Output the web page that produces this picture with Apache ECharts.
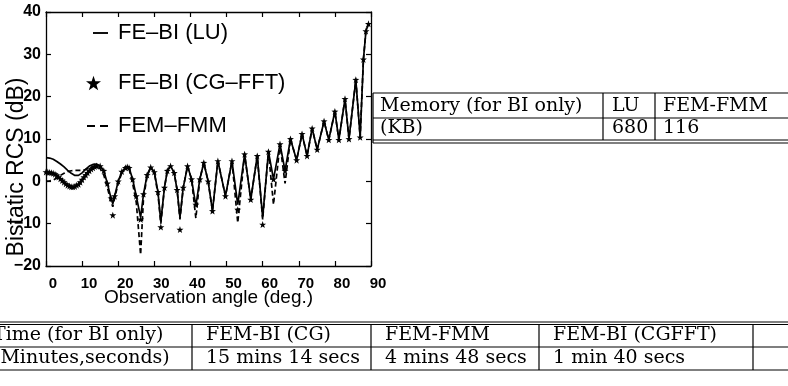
<!DOCTYPE html>
<html>
<head>
<meta charset="utf-8">
<script src="https://cdn.jsdelivr.net/npm/echarts@6/dist/echarts.min.js"></script>
<style>
  html, body { margin: 0; padding: 0; background: #fff; }
  #chart { width: 788px; height: 386px; }
</style>
</head>
<body>
<div id="chart"></div>
<script>
// Observation angles (deg.) at which the bistatic RCS was sampled
const angles = [
  0, 0.5, 1, 1.5, 2, 2.5, 3, 3.5, 4, 4.5, 5, 5.5, 6, 6.5, 7, 7.5, 8, 8.5, 9, 9.5,
  10, 10.5, 11, 11.5, 12, 12.5, 13, 13.5, 14,
  15, 16, 17, 18, 18.5, 19, 20, 21, 22, 22.5, 23, 24, 25, 26.2, 27, 28, 29, 30, 31, 31.8,
  32.8, 33.6, 34.5, 35.5, 36.3, 37.1, 38, 39.2, 40.3, 41.5, 42.6, 43.7, 44.9, 46.1, 47.6,
  49.7, 51.5, 53.1, 55, 56.7, 58.5, 60, 61.6, 63, 64.8, 66.2, 67.7, 69.4, 70.9, 72.3,
  73.7, 75.1, 77, 78.3, 80, 81.1, 82.8, 83.9, 85.8, 87, 87.9, 88.6, 89.3
];

// Bistatic RCS (dB), FE-BI solved with LU
const rcsLU = [
  5.6, 5.6, 5.5, 5.4, 5.2, 5.0, 4.7, 4.4, 4.1, 3.8, 3.4, 3.0, 2.6, 2.2, 1.9, 1.6, 1.4, 1.3, 1.4, 1.6,
  2.0, 2.4, 2.9, 3.3, 3.6, 3.9, 4.0, 4.1, 4.1,
  3.7, 2.5, -0.5, -4.0, -5.3, -3.5, 0, 2.3, 3.2, 3.4, 3.2, 0.5, -3.5, -8.5, -3.0, 1.5, 3.3, 2.2, -2.5, -9.5,
  -1.5, 2.5, 3.6, 2.0, -2.0, -8.5, -1.5, 3.6, 0.5, -5.8, 0.5, 4.4, 0, -7.0, 4.8,
  -3.5, 4.8, -5.5, 6.4, -4.3, 6.0, -8.5, 7.0, 0.5, 8.8, 2.5, 10.0, 5.0, 11.2, 6.0,
  12.5, 7.5, 14.2, 9.8, 16.5, 9.8, 19.5, 10.0, 24.0, 10.4, 28.8, 35.5, 37.2
];

// Bistatic RCS (dB), FE-BI solved with CG-FFT
const rcsCGFFT = [
  2.2, 2.2, 2.1, 2.0, 1.9, 1.7, 1.4, 1.0, 0.6, 0.2, -0.2, -0.6, -0.9, -1.1, -1.3, -1.3, -1.2, -0.9, -0.7, -0.2,
  0.4, 1.0, 1.5, 2.0, 2.5, 2.9, 3.2, 3.5, 3.6,
  3.6, 2.5, -0.5, -4.0, -8.0, -3.5, 0, 2.3, 3.2, 3.4, 3.2, 0.5, -3.5, -9.0, -3.0, 1.5, 3.3, 2.2, -2.5, -10.8,
  -1.5, 2.5, 3.6, 2.0, -2.0, -11.4, -1.5, 3.6, 0.5, -5.5, 0.5, 4.4, 0, -7.0, 4.8,
  -3.5, 4.8, -6.7, 6.4, -4.3, 6.0, -10.2, 7.0, 0.5, 8.8, 2.5, 10.0, 5.0, 11.2, 6.0,
  12.5, 7.5, 14.2, 9.8, 16.5, 9.8, 19.5, 10.0, 24.0, 10.4, 28.8, 35.5, 37.2
];

// Bistatic RCS (dB), FEM-FMM
const rcsFEMFMM = [
  0.0, 0.0, 0.1, 0.2, 0.3, 0.5, 0.8, 1.1, 1.4, 1.7, 1.9, 2.1, 2.3, 2.4, 2.5, 2.6, 2.6, 2.6, 2.6, 2.6,
  2.6, 2.7, 2.8, 3.0, 3.2, 3.4, 3.5, 3.6, 3.6,
  3.0, 1.5, -1.5, -4.8, -6.0, -4.0, -0.5, 2.0, 3.2, 3.4, 3.0, -0.5, -5.0, -17.3, -4.0, 1.2, 3.3, 2.0, -3.0, -10.0,
  -1.5, 2.5, 3.6, 2.0, -2.0, -9.0, -1.5, 3.6, 0.5, -8.7, 0.5, 4.4, 0, -7.0, 4.8,
  -3.5, 4.8, -9.8, 6.4, -4.3, 6.0, -9.0, 7.0, -5.5, 8.8, -0.5, 10.0, 5.0, 11.2, 6.0,
  12.5, 7.5, 14.2, 9.8, 16.5, 9.8, 19.5, 10.0, 24.0, 10.4, 28.8, 35.5, 37.2
];

const seriesNames = ['FE\u2013BI (LU)', 'FE\u2013BI (CG\u2013FFT)', 'FEM\u2013FMM'];
const xAxisTitle = 'Observation angle (deg.)';
const yAxisTitle = 'Bistatic RCS (dB)';

// Memory table
const memoryHeader = ['Memory (for BI only)', 'LU', 'FEM-FMM'];
const memoryRow = ['(KB)', '680', '116'];

// Timing table
const timeHeader = ['Time (for BI only)', 'FEM-BI (CG)', 'FEM-FMM', 'FEM-BI (CGFFT)'];
const timeRow = ['(Minutes,seconds)', '15 mins 14 secs', '4 mins 48 secs', '1 min 40 secs'];

// ---- layout ----
const SANS = '"Liberation Sans", Arial, Helvetica, sans-serif';
const SERIF = '"DejaVu Serif", "Liberation Serif", serif';
const starPath = 'path://M0,-10 L2.35,-3.24 L9.51,-3.09 L3.8,1.24 L5.88,8.09 L0,4 L-5.88,8.09 L-3.8,1.24 L-9.51,-3.09 L-2.35,-3.24 Z';
const solidIcon = 'path://M0,0 L16,0 L16,2 L0,2 Z';
const dashIcon = 'path://M0,0 L8,0 L8,2 L0,2 Z M13,0 L21,0 L21,2 L13,2 Z';

const pairs = (ys) => angles.map((a, i) => [a, ys[i]]);
const minusFmt = (v) => String(v).replace('-', '\u2212');

const tableFont = '19px ' + SERIF;
const memCols = { text: [380, 612, 663], sep: [373, 603, 655], rows: [106, 128], lines: [93, 118, 140, 143] };
const timeCols = {
  text: [-7, 206, 385, 553],
  sep: [192, 371, 539, 753], rows: [335, 358], lines: [322, 324.5, 347, 370]
};

const graphics = [];
function hline(x1, x2, y) {
  graphics.push({ type: 'line', shape: { x1, y1: y, x2, y2: y }, style: { stroke: '#000', lineWidth: 1.2 } });
}
function vline(x, y1, y2) {
  graphics.push({ type: 'line', shape: { x1: x, y1, x2: x, y2 }, style: { stroke: '#000', lineWidth: 1.2 } });
}
function label(x, y, text) {
  graphics.push({ type: 'text', x, y, style: { text, font: tableFont, fill: '#000', align: 'left', verticalAlign: 'middle' } });
}
memCols.lines.forEach(y => hline(memCols.sep[0], 788, y));
vline(memCols.sep[0], memCols.lines[0], memCols.lines[3]);
memCols.sep.slice(1).forEach(x => vline(x, memCols.lines[0], memCols.lines[2]));
memoryHeader.forEach((t, i) => label(memCols.text[i], memCols.rows[0], t));
memoryRow.forEach((t, i) => label(memCols.text[i], memCols.rows[1], t));

timeCols.lines.forEach(y => hline(0, 788, y));
timeCols.sep.forEach(x => vline(x, timeCols.lines[1], timeCols.lines[3]));
timeHeader.forEach((t, i) => label(timeCols.text[i], timeCols.rows[0], t));
timeRow.forEach((t, i) => label(timeCols.text[i], timeCols.rows[1], t));

const axisBase = {
  type: 'value',
  axisLine: { show: true, onZero: false, lineStyle: { color: '#000', width: 1.3 } },
  axisTick: { show: true, inside: true, length: 5, lineStyle: { color: '#000', width: 1.2 } },
  splitLine: { show: false }
};
const tickText = { color: '#000', fontFamily: SANS, fontWeight: 'bold' };
const legendText = { color: '#000', fontFamily: SANS, fontSize: 22 };

const option = {
  backgroundColor: '#fff',
  animation: false,
  grid: { left: 46, right: 417, top: 12, bottom: 120, containLabel: false, outerBoundsMode: 'none' },
  xAxis: [
    Object.assign({}, axisBase, {
      min: 0, max: 90, interval: 10, position: 'bottom',
      name: xAxisTitle, nameLocation: 'middle', nameGap: 22, nameMoveOverlap: false,
      nameTextStyle: { color: '#000', fontFamily: SANS, fontSize: 19 },
      axisLabel: Object.assign({ fontSize: 15, margin: 10, padding: [0, 0, 0, 14], formatter: minusFmt, hideOverlap: false, showMaxLabel: true, showMinLabel: true }, tickText)
    }),
    Object.assign({}, axisBase, {
      min: 0, max: 90, interval: 10, position: 'top', axisLabel: { show: false }
    })
  ],
  yAxis: [
    Object.assign({}, axisBase, {
      min: -20, max: 40, interval: 10, position: 'left',
      name: yAxisTitle, nameLocation: 'middle', nameGap: 18, nameMoveOverlap: false,
      nameTextStyle: { color: '#000', fontFamily: SANS, fontSize: 23, padding: [0, 56, 0, 0] },
      axisLabel: Object.assign({ fontSize: 16, margin: 5, formatter: minusFmt, showMaxLabel: true, showMinLabel: true }, tickText)
    }),
    Object.assign({}, axisBase, {
      min: -20, max: 40, interval: 10, position: 'right', axisLabel: { show: false }
    })
  ],
  legend: [
    { data: [{ name: seriesNames[0], icon: solidIcon }], left: 88, top: 17, itemWidth: 15, itemHeight: 2, textStyle: Object.assign({ padding: [0, 0, 0, 5] }, legendText) },
    { data: [{ name: seriesNames[1], icon: starPath }], left: 81, top: 67, itemWidth: 15, itemHeight: 15, textStyle: Object.assign({ padding: [0, 0, 0, 12] }, legendText) },
    { data: [{ name: seriesNames[2], icon: dashIcon }], left: 82, top: 110, itemWidth: 21, itemHeight: 2, textStyle: Object.assign({ padding: [0, 0, 0, 5] }, legendText) }
  ],
  series: [
    {
      name: seriesNames[0], type: 'line', data: pairs(rcsLU),
      symbol: 'none', lineStyle: { color: '#000', width: 1.7 }, itemStyle: { color: '#000' }, z: 3
    },
    {
      name: seriesNames[1], type: 'scatter', data: pairs(rcsCGFFT),
      symbol: starPath, symbolSize: 7, itemStyle: { color: '#000', opacity: 1 }, z: 4
    },
    {
      name: seriesNames[2], type: 'line', data: pairs(rcsFEMFMM),
      symbol: 'none', lineStyle: { color: '#000', width: 1.7, type: [5, 3] }, itemStyle: { color: '#000' }, z: 2
    }
  ],
  graphic: graphics
};

const chart = echarts.init(document.getElementById('chart'), null, { renderer: 'canvas' });
chart.setOption(option);
</script>
</body>
</html>
